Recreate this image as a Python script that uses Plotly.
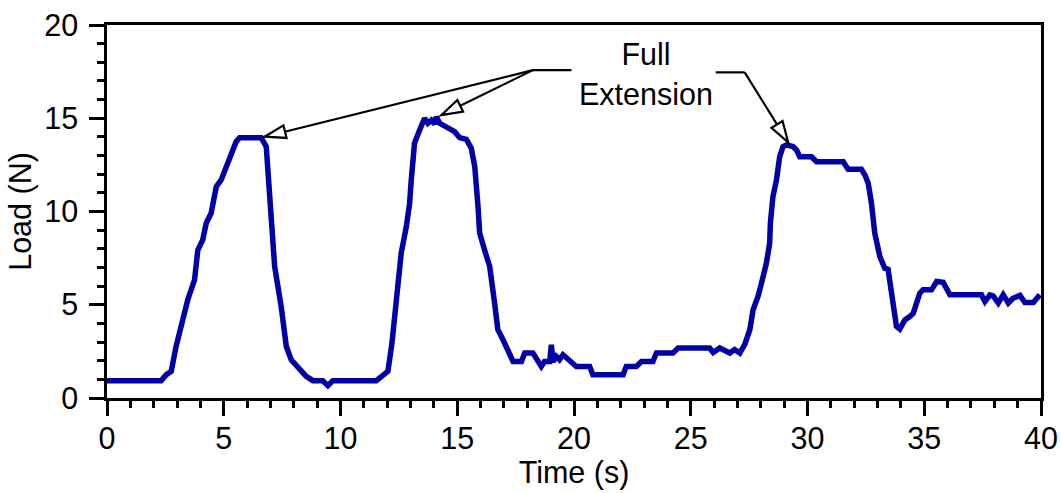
import plotly.graph_objects as go

# Load cell record: time (s) and measured load (N)
time_s = [
    0.00, 2.32, 2.54, 2.75, 2.96, 3.25, 3.46, 3.75, 3.89, 4.10, 4.25, 4.46, 4.68, 4.89,
    5.18, 5.53, 5.68, 6.60, 6.82, 6.89, 7.03, 7.18, 7.46, 7.68, 7.89, 8.18, 8.53, 8.82,
    9.24, 9.46, 9.67, 11.53, 11.82, 12.03, 12.20, 12.39, 12.60, 12.82, 12.96, 13.03,
    13.17, 13.39, 13.60, 13.74, 13.89, 14.03, 14.10, 14.25, 14.53, 14.89, 15.10, 15.39,
    15.60, 15.75, 15.89, 15.96, 16.17, 16.39, 16.60, 16.74, 16.96, 17.17, 17.39, 17.75,
    17.89, 18.24, 18.46, 18.60, 18.74, 18.96, 19.03, 19.10, 19.24, 19.38, 19.53, 19.82,
    20.10, 20.67, 20.81, 22.10, 22.24, 22.67, 22.89, 23.38, 23.53, 24.24, 24.46, 25.81,
    25.96, 26.24, 26.45, 26.67, 26.88, 27.10, 27.31, 27.53, 27.67, 27.88, 28.03, 28.24,
    28.38, 28.41, 28.52, 28.67, 28.81, 28.95, 29.10, 29.38, 29.53, 29.67, 30.17, 30.39,
    31.53, 31.74, 32.31, 32.46, 32.60, 32.74, 32.88, 33.10, 33.31, 33.45, 33.60, 33.81,
    33.95, 34.17, 34.38, 34.53, 34.81, 34.95, 35.31, 35.53, 35.81, 36.10, 37.45, 37.60,
    37.81, 37.95, 38.17, 38.38, 38.60, 38.80, 39.10, 39.31, 39.67, 39.95,
]
load_n = [
    0.93, 0.93, 1.25, 1.43, 2.77, 4.37, 5.27, 6.34, 7.94, 8.48, 9.37, 9.91, 11.33, 11.69,
    12.59, 13.74, 13.96, 13.96, 13.48, 12.40, 9.73, 7.05, 4.90, 2.76, 2.05, 1.69, 1.16, 0.93,
    0.93, 0.66, 0.93, 0.93, 1.25, 1.43, 2.90, 5.44, 7.77, 9.19, 10.44, 11.69,
    13.66, 14.37, 15.00, 14.73, 14.90, 14.69, 15.08, 14.73, 14.55, 14.28, 13.96, 13.87,
    13.39, 12.40, 10.26, 8.84, 7.94, 7.05, 5.09, 3.66, 3.12, 2.50, 1.96, 1.96,
    2.41, 2.41, 1.96, 1.69, 1.96, 1.96, 2.86, 1.96, 2.23, 2.05, 2.32, 1.96,
    1.69, 1.69, 1.25, 1.25, 1.69, 1.69, 1.96, 1.96, 2.41, 2.41, 2.68, 2.68,
    2.44, 2.68, 2.55, 2.41, 2.60, 2.41, 2.86, 3.66, 4.73, 5.44, 6.16, 7.23,
    8.30, 9.37, 10.80, 11.69, 12.94, 13.48, 13.57, 13.48, 13.30, 12.94, 12.94, 12.67,
    12.67, 12.26, 12.26, 11.96, 11.51, 10.44, 8.84, 7.58, 6.96, 6.90, 5.62, 3.84,
    3.70, 4.19, 4.37, 4.55, 5.62, 5.80, 5.80, 6.25, 6.20, 5.53, 5.53, 5.17,
    5.53, 5.48, 5.09, 5.53, 5.09, 5.35, 5.50, 5.12, 5.12, 5.53,
]

x_ticks = [0, 5, 10, 15, 20, 25, 30, 35, 40]
y_ticks = [0, 5, 10, 15, 20]

# "Full Extension" callout: peak points and leader-line geometry (data units)
peak_points = [(6.75, 14.01), (14.32, 15.17), (29.17, 13.71)]
left_knee = (18.24, 17.58)
left_bar_end = (19.89, 17.58)
right_bar = [(26.07, 17.46), (27.31, 17.46)]
label_pos = (23.07, 17.37)

W, H = 1061, 493
M = dict(l=107, r=20, t=25, b=95)
X_RANGE = [0, 40]
Y_RANGE = [0, 20]
px_per_x = (W - M["l"] - M["r"]) / (X_RANGE[1] - X_RANGE[0])
px_per_y = (H - M["t"] - M["b"]) / (Y_RANGE[1] - Y_RANGE[0])

FONT = "Liberation Sans, Arial, sans-serif"
FS = 30.5
LINE_COLOR = "#0000A6"

fig = go.Figure()
fig.add_trace(go.Scatter(
    x=time_s, y=load_n, mode="lines",
    line=dict(color=LINE_COLOR, width=5.5),
    showlegend=False, hoverinfo="skip",
))

shapes = []


def seg(p, q, width=2.2):
    shapes.append(dict(type="line", xref="x", yref="y",
                       x0=p[0], y0=p[1], x1=q[0], y1=q[1],
                       line=dict(color="black", width=width), layer="above"))


def hollow_head(tail, tip, length=21, half=6.5):
    # triangle drawn in pixel space, converted back to data units
    dx = (tip[0] - tail[0]) * px_per_x
    dy = (tip[1] - tail[1]) * px_per_y
    n = (dx ** 2 + dy ** 2) ** 0.5
    ux, uy = dx / n, dy / n
    bx, by = -ux * length, -uy * length
    c1 = (bx - uy * half, by + ux * half)
    c2 = (bx + uy * half, by - ux * half)
    pts = [(0, 0), c1, c2]
    data_pts = [(tip[0] + a / px_per_x, tip[1] + b / px_per_y) for a, b in pts]
    path = "M " + " L ".join(f"{a:.4f},{b:.4f}" for a, b in data_pts) + " Z"
    shapes.append(dict(type="path", xref="x", yref="y", path=path,
                       fillcolor="white", line=dict(color="black", width=2.2),
                       layer="above"))


seg(left_knee, left_bar_end)
seg(left_knee, peak_points[0])
seg(left_knee, peak_points[1])
seg(right_bar[0], right_bar[1])
seg(right_bar[1], peak_points[2])
hollow_head(left_knee, peak_points[0])
hollow_head(left_knee, peak_points[1])
hollow_head(right_bar[1], peak_points[2])

axis_common = dict(
    automargin=False,
    showline=True, linewidth=2.5, linecolor="black", mirror=True,
    ticks="outside", ticklen=15, tickwidth=2.5, tickcolor="black",
    showgrid=False, zeroline=False,
    tickfont=dict(family=FONT, size=FS, color="black"),
    minor=dict(ticks="outside", ticklen=7, tickwidth=2.5, tickcolor="black",
               dtick=1, showgrid=False),
)

fig.update_layout(
    width=W, height=H,
    margin=M,
    paper_bgcolor="white", plot_bgcolor="white",
    font=dict(family=FONT, size=FS, color="black"),
    xaxis=dict(range=X_RANGE, tickvals=x_ticks, ticktext=[str(v) for v in x_ticks],
               ticklabelstandoff=-3,
               title=dict(text="Time (s)", font=dict(family=FONT, size=FS), standoff=3),
               **axis_common),
    yaxis=dict(range=Y_RANGE, tickvals=y_ticks, ticktext=[str(v) for v in y_ticks],
               ticklabelstandoff=5,
               title=dict(text="Load (N)", font=dict(family=FONT, size=FS), standoff=4),
               **axis_common),
    shapes=shapes,
    annotations=[dict(
        x=label_pos[0], y=label_pos[1], xref="x", yref="y",
        text="Full<br>Extension", showarrow=False,
        font=dict(family=FONT, size=FS, color="black"),
        xanchor="center", yanchor="middle", align="center",
    )],
)

fig.write_html("out.html")
